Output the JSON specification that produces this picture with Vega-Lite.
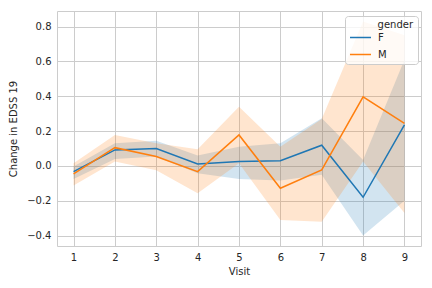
{
  "$schema": "https://vega.github.io/schema/vega-lite/v6.json",
  "width": 364,
  "height": 235,
  "autosize": {"type": "none"},
  "padding": {"left": 57, "top": 11, "right": 11, "bottom": 42},
  "background": "white",
  "config": {
    "view": {"stroke": "#cccccc", "strokeWidth": 1},
    "font": "DejaVu Sans",
    "axis": {
      "domain": false,
      "ticks": false,
      "grid": true,
      "gridColor": "#cccccc",
      "gridWidth": 1,
      "labelColor": "#262626",
      "labelFontSize": 10,
      "titleColor": "#262626",
      "titleFontSize": 10,
      "titleFontWeight": "normal",
      "labelPadding": 6,
      "labelOverlap": false
    },
    "legend": {
      "symbolSize": 440,
      "rowPadding": -1,
      "padding": 4,
      "titlePadding": -4,
      "labelOffset": 6
    }
  },
  "data": {
    "values": [
      {"visit": 1, "gender": "F", "mean": -0.033, "lo": -0.075, "hi": -0.004},
      {"visit": 2, "gender": "F", "mean": 0.092, "lo": 0.04, "hi": 0.13},
      {"visit": 3, "gender": "F", "mean": 0.10, "lo": 0.054, "hi": 0.144},
      {"visit": 4, "gender": "F", "mean": 0.011, "lo": -0.042, "hi": 0.06},
      {"visit": 5, "gender": "F", "mean": 0.025, "lo": -0.075, "hi": 0.11},
      {"visit": 6, "gender": "F", "mean": 0.03, "lo": -0.084, "hi": 0.13},
      {"visit": 7, "gender": "F", "mean": 0.119, "lo": -0.05, "hi": 0.274},
      {"visit": 8, "gender": "F", "mean": -0.18, "lo": -0.40, "hi": 0.034},
      {"visit": 9, "gender": "F", "mean": 0.236, "lo": -0.20, "hi": 0.61},
      {"visit": 1, "gender": "M", "mean": -0.046, "lo": -0.113, "hi": 0.015},
      {"visit": 2, "gender": "M", "mean": 0.105, "lo": 0.025, "hi": 0.178},
      {"visit": 3, "gender": "M", "mean": 0.054, "lo": -0.025, "hi": 0.13},
      {"visit": 4, "gender": "M", "mean": -0.033, "lo": -0.157, "hi": 0.096},
      {"visit": 5, "gender": "M", "mean": 0.178, "lo": 0.015, "hi": 0.34},
      {"visit": 6, "gender": "M", "mean": -0.128, "lo": -0.31, "hi": 0.11},
      {"visit": 7, "gender": "M", "mean": -0.023, "lo": -0.32, "hi": 0.27},
      {"visit": 8, "gender": "M", "mean": 0.397, "lo": 0.025, "hi": 0.83},
      {"visit": 9, "gender": "M", "mean": 0.245, "lo": -0.27, "hi": 0.75}
    ]
  },
  "encoding": {
    "x": {
      "field": "visit",
      "type": "quantitative",
      "scale": {"domain": [0.6, 9.4], "nice": false, "zero": false},
      "axis": {"values": [1, 2, 3, 4, 5, 6, 7, 8, 9], "title": "Visit", "format": "d", "titlePadding": 4}
    },
    "color": {
      "field": "gender",
      "type": "nominal",
      "scale": {"domain": ["F", "M"], "range": ["#1f77b4", "#ff7f0e"]},
      "legend": {
        "orient": "none",
        "legendX": 288,
        "legendY": 5,
        "title": "\u200b\u00a0\u00a0\u00a0\u00a0\u00a0\u00a0\u00a0\u00a0\u00a0gender",
        "titleFontSize": 10,
        "titleFontWeight": "normal",
        "titleColor": "#262626",
        "labelColor": "#262626",
        "labelFontSize": 10,
        "labelOffset": 6,
        "symbolType": "stroke",
        "symbolStrokeWidth": 1.5,
        "symbolSize": 440,
        "symbolOpacity": 1,
        "fillColor": "rgba(255,255,255,0.8)",
        "strokeColor": "#cccccc",
        "padding": 4,
        "cornerRadius": 3,
        "rowPadding": -1,
        "titlePadding": -4,
        "encode": {
          "symbols": {"update": {"size": {"value": 440}, "strokeWidth": {"value": 1.5}}}
        }
      }
    }
  },
  "layer": [
    {
      "mark": {"type": "area", "opacity": 0.2},
      "encoding": {
        "y": {
          "field": "lo",
          "type": "quantitative",
          "scale": {"domain": [-0.46, 0.89], "nice": false, "zero": false},
          "axis": {"values": [-0.4, -0.2, 0, 0.2, 0.4, 0.6, 0.8], "format": ".1f", "title": "Change in EDSS 19", "titlePadding": 8}
        },
        "y2": {"field": "hi"}
      }
    },
    {
      "mark": {"type": "line", "strokeWidth": 1.5},
      "encoding": {
        "y": {
          "field": "mean",
          "type": "quantitative",
          "scale": {"domain": [-0.46, 0.89], "nice": false, "zero": false},
          "axis": {"values": [-0.4, -0.2, 0, 0.2, 0.4, 0.6, 0.8], "format": ".1f", "title": "Change in EDSS 19", "titlePadding": 8}
        }
      }
    }
  ]
}
